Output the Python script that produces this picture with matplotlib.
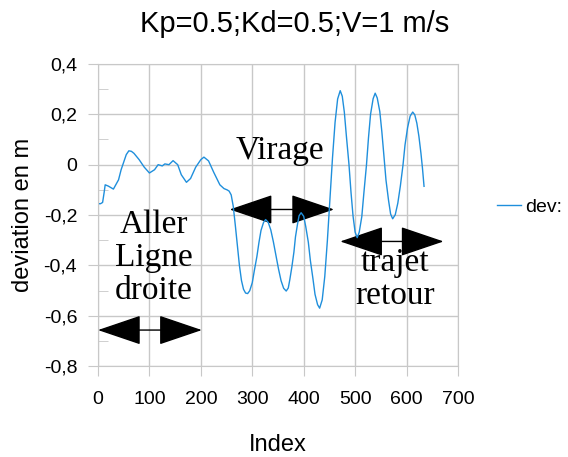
import matplotlib
matplotlib.use('Agg')
import matplotlib.pyplot as plt
from matplotlib.patches import FancyArrowPatch
from matplotlib.ticker import MultipleLocator, FuncFormatter

# deviation
index = [0, 5, 9, 12, 14, 20, 30, 40, 45, 50, 55, 60, 65, 70, 80, 90, 100, 110,
         117, 125, 130, 138, 146, 155, 162, 172, 180, 190, 200, 206, 215, 225,
         237, 245, 251, 255, 259, 263, 267, 271, 275, 279, 283, 287, 291,
         295, 300, 304, 309, 313, 317, 322, 326,
         331, 336, 341, 346, 351, 356, 361, 366,
         370, 373, 377, 381, 384, 388, 391, 395,
         400, 404, 409, 413, 418, 422, 427, 431,
         436, 441, 446, 451, 456, 461, 466, 471,
         475, 479, 483, 488, 492, 496, 500, 504,
         508, 513, 517, 522, 526, 530, 535, 539,
         543, 548, 552, 556, 560, 565, 569, 573,
         578, 583, 588, 593, 597, 602, 607, 612,
         616, 620, 624, 628, 631, 634]
dev = [-0.155, -0.155, -0.15, -0.11, -0.08, -0.085, -0.097, -0.06, -0.02, 0.01,
       0.04, 0.055, 0.053, 0.045, 0.02, -0.01, -0.033, -0.02, 0.0, -0.005,
       0.003, 0.0, 0.016, 0.0, -0.04, -0.07, -0.055, -0.01, 0.02, 0.03, 0.015,
       -0.03, -0.08, -0.095, -0.10, -0.105, -0.12, -0.165, -0.24, -0.32, -0.40,
       -0.46, -0.495, -0.51, -0.512,
       -0.501, -0.469, -0.421, -0.365, -0.309, -0.261, -0.229, -0.218,
       -0.229, -0.259, -0.306, -0.360, -0.414, -0.461, -0.491, -0.502,
       -0.490, -0.457, -0.406, -0.347, -0.287, -0.236, -0.203, -0.191,
       -0.205, -0.246, -0.308, -0.381, -0.453, -0.515, -0.556, -0.570,
       -0.537, -0.444, -0.303, -0.138, 0.027, 0.168, 0.261, 0.294,
       0.272, 0.209, 0.114, 0.002, -0.110, -0.205, -0.268, -0.290,
       -0.268, -0.206, -0.113, -0.003, 0.107, 0.200, 0.262, 0.284,
       0.265, 0.211, 0.130, 0.035, -0.061, -0.142, -0.196, -0.215,
       -0.199, -0.153, -0.084, -0.003, 0.078, 0.147, 0.193, 0.209,
       0.198, 0.165, 0.113, 0.045, -0.015, -0.086]

# annotations: text, text position, arrow start/end (index), arrow level
phase_labels = ["Aller\nLigne\ndroite", "Virage", "trajet\nretour"]
phase_text_pos = [(109, -0.37), (353, 0.055), (577, -0.455)]
phase_x0 = [0, 256, 471]
phase_x1 = [202, 459, 672]
phase_y = [-0.657, -0.178, -0.305]

title = "Kp=0.5;Kd=0.5;V=1 m/s"

plt.rcParams['font.family'] = ['Liberation Sans', 'DejaVu Sans']
fig = plt.figure(figsize=(5.68, 4.57), dpi=100)
ax = fig.add_axes([0.1725, 0.199, 0.6338, 0.661])

ax.plot(index, dev, color='#1f8fdc', linewidth=1.0, label='dev:')

ax.set_xlim(0, 700)
ax.set_ylim(-0.8, 0.4)
ax.xaxis.set_major_locator(MultipleLocator(100))
ax.yaxis.set_major_locator(MultipleLocator(0.2))
ax.yaxis.set_minor_locator(MultipleLocator(0.1))
ax.yaxis.set_major_formatter(FuncFormatter(
    lambda v, p: ("%.1f" % v).replace('.', ',') if abs(v) > 1e-9 else "0"))
ax.grid(True, which='major', color='#c8c8c8', linewidth=1)
ax.set_axisbelow(True)
for s in ax.spines.values():
    s.set_color('#c8c8c8')
ax.tick_params(which='major', direction='out', length=7, color='#c8c8c8',
               labelsize=14)
ax.tick_params(axis='x', pad=11)
ax.tick_params(axis='y', pad=8)
ax.tick_params(axis='y', which='minor', direction='in', length=7, color='#c8c8c8')

ax.set_xlabel("Index", fontsize=17, va='center')
ax.xaxis.set_label_coords(0.5, (366 - 445) / 302)
ax.set_ylabel("deviation en m", fontsize=17, va='center')
ax.yaxis.set_label_coords((23 - 98) / 360, 0.5)
fig.text(295 / 568, 1 - 24 / 457, title, fontsize=21, ha='center', va='center')

for lab, (tx, ty), x0, x1, y in zip(phase_labels, phase_text_pos, phase_x0,
                                     phase_x1, phase_y):
    ax.text(tx, ty, lab, family=['Liberation Serif', 'DejaVu Serif'],
            fontsize=24, ha='center', va='center', linespacing=1.12)
    arr = FancyArrowPatch((x0, y), (x1, y),
                          arrowstyle='<|-|>,head_length=28,head_width=9.5',
                          mutation_scale=1, color='black', linewidth=1,
                          shrinkA=0, shrinkB=0, clip_on=False)
    ax.add_patch(arr)

ax.legend(loc='center left', bbox_to_anchor=(497 / 568, 1 - 207 / 457),
          bbox_transform=fig.transFigure, frameon=False, fontsize=14,
          handlelength=1.25, handletextpad=0.2, borderaxespad=0, borderpad=0)

fig.savefig('out.png', dpi=100)
